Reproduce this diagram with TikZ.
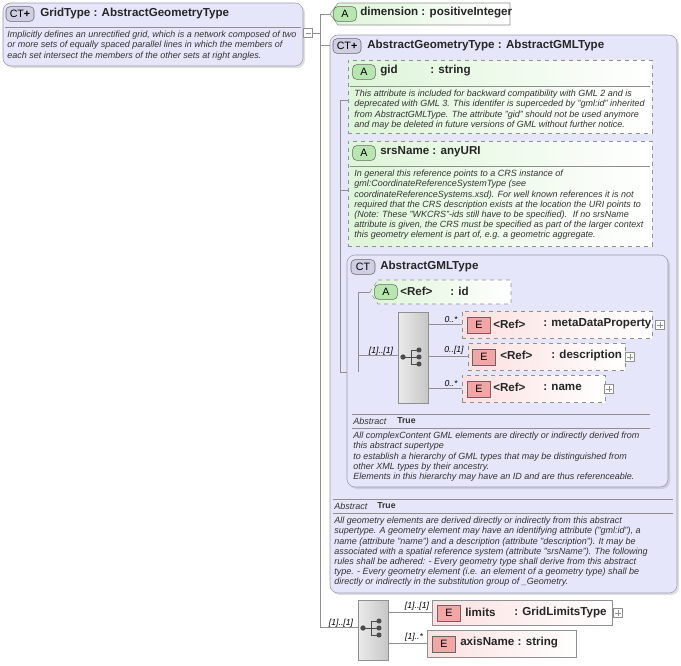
\documentclass[tikz,border=0pt]{standalone}
\usepackage{fontspec}
\setmainfont{Liberation Sans}
\usetikzlibrary{fit,shadows,calc}
\definecolor{ctfill}{HTML}{E6E6FA}
\definecolor{ctline}{HTML}{9A9AB0}
\definecolor{attfill}{HTML}{DDF5D8}
\definecolor{attic}{HTML}{B8E6B0}
\definecolor{elfill}{HTML}{FBE0E0}
\definecolor{elic}{HTML}{F3A6A6}
\definecolor{lnc}{HTML}{909090}
\tikzset{
 x=0.75pt,y=-0.75pt,
 ctbox/.style={draw=ctline,fill=ctfill,rounded corners=6pt,inner sep=0,drop shadow={opacity=0.25,shadow xshift=1.5pt,shadow yshift=-1.5pt}},
 attbox/.style={draw=lnc,dashed,left color=attfill,right color=white,inner sep=0},
 elbox/.style={draw=lnc,dashed,left color=elfill,right color=white,inner sep=0},
 elboxs/.style={draw=lnc,left color=elfill,right color=white,inner sep=0},
 title/.style={anchor=west,font=\fontsize{8.7}{10}\selectfont\bfseries,inner sep=0,text=black!85},
 doc/.style={anchor=north west,align=left,font=\fontsize{6.75}{7.6}\selectfont\itshape,inner sep=0,text=black!80},
 mult/.style={font=\fontsize{6.5}{7}\selectfont\itshape,inner sep=0,anchor=south},
 ctic/.style={draw=black!60,fill=ctfill!70!ctline,rounded corners=3pt,font=\fontsize{8}{8}\selectfont,inner sep=1pt,minimum width=21pt,minimum height=11pt},
 aic/.style={draw=black!60,fill=attic,rounded corners=3pt,font=\fontsize{8}{8}\selectfont,inner sep=1pt,minimum width=17pt,minimum height=11pt},
 eic/.style={draw=black!60,fill=elic,font=\fontsize{8}{8}\selectfont,inner sep=1pt,minimum width=17pt,minimum height=12pt},
 seqbox/.style={draw=lnc,left color=black!8,right color=black!22,inner sep=0},
 pl/.style={draw=lnc,fill=white,minimum size=6.5pt,inner sep=0},
 conn/.style={draw=lnc,line width=0.5pt},
 sep/.style={draw=lnc,line width=0.4pt},
}
\newcommand{\plusat}[3]{\node[pl] (#1) at (#2,#3) {}; \draw[lnc,line width=0.4pt] ($(#1)+(-2.2pt,0)$)--($(#1)+(2.2pt,0)$) ($(#1)+(0,-2.2pt)$)--($(#1)+(0,2.2pt)$);}
\newcommand{\seqicon}[2]{\fill[black!70] (#1-10,#2) circle (2pt); \draw[black!70,line width=0.7pt] (#1-10,#2)--(#1-2,#2) (#1-2,#2-7)--(#1-2,#2+7) (#1-2,#2-7)--(#1+6,#2-7) (#1-2,#2)--(#1+6,#2) (#1-2,#2+7)--(#1+6,#2+7); \fill[black!70] (#1+6,#2-7) circle (1.9pt) (#1+6,#2) circle (1.9pt) (#1+6,#2+7) circle (1.9pt);}
\begin{document}
\begin{tikzpicture}
\useasboundingbox (0,0) rectangle (681,665);
\coordinate (j0) at (320,33);
\draw[conn] (311,33)--(320,33) (320,14)--(320,627);
\draw[conn] (320,14)--(330,14) (320,45)--(330,45) (320,627)--(358,627);
\node[ctbox,fit={(3,3)(303,66)}] (grid) {};
\draw[sep] (5,27)--(301,27);
\node[ctic] (gic) at (20,14) {CT\textbf{+}};
\node[title] (gt) at (40,13) {GridType : AbstractGeometryType};
\node[doc] (gd) at (7,31) {Implicitly defines an unrectified grid, which is a network composed of two\\or more sets of equally spaced parallel lines in which the members of\\each set intersect the members of the other sets at right angles.};
\node[pl] (gm) at (308,33) {}; \draw[lnc,line width=0.4pt] (305.5,33)--(310.5,33);
% dimension
\draw[attbox,solid,draw=lnc] (338,3)--(510,3)--(510,25)--(338,25)--(330,14)--cycle;
\node[inner sep=0,fit={(330,3)(510,25)}] (dim) {};
\node[aic] (dic) at (345,14) {A};
\node[title] at (360,13) {dimension : positiveInteger};
% AbstractGeometryType
\node[ctbox,fit={(330,35)(677,593)}] (agt) {};
\node[ctic] (aic1) at (347,46) {CT\textbf{+}};
\node[title] at (367,45) {AbstractGeometryType : AbstractGMLType};
\draw[conn] (340,100)--(340,372)--(358,372) (340,100)--(348,100) (340,190)--(348,190);
% gid
\node[attbox,fit={(348,60)(652,133)}] (gid) {};
\draw[sep] (350,86)--(650,86);
\node[aic] at (364,72) {A};
\node[title] at (380,71) {gid};
\node[title] at (430,71) {: string};
\node[doc] at (354,90) {This attribute is included for backward compatibility with GML 2 and is\\deprecated with GML 3. This identifer is superceded by "gml:id" inherited\\from AbstractGMLType. The attribute "gid" should not be used anymore\\and may be deleted in future versions of GML without further notice.};
% srsName
\node[attbox,fit={(348,141)(652,246)}] (srs) {};
\draw[sep] (350,166)--(650,166);
\node[aic] at (364,153) {A};
\node[title] at (380,152) {srsName : anyURI};
\node[doc] at (354,170) {In general this reference points to a CRS instance of\\gml:CoordinateReferenceSystemType (see\\coordinateReferenceSystems.xsd). For well known references it is not\\required that the CRS description exists at the location the URI points to\\(Note: These "WKCRS"-ids still have to be specified).~ If no srsName\\attribute is given, the CRS must be specified as part of the larger context\\this geometry element is part of, e.g. a geometric aggregate.};
% AbstractGMLType
\node[ctbox,fit={(347,255)(668,487)}] (agml) {};
\node[ctic,minimum width=18pt] at (363,267) {CT};
\node[title] at (380,266) {AbstractGMLType};
\draw[conn] (358,372)--(358,292)--(370,292) (358,355)--(398,355);
\node[mult] at (381,356) {[1]..[1]};
\draw[attbox] (378,280)--(511,280)--(511,304)--(378,304)--(370,292)--cycle;
\node[inner sep=0,fit={(370,280)(511,304)}] (id) {};
\node[aic] at (386,292) {A};
\node[title] at (400,291) {<Ref>};
\node[title] at (450,291) {: id};
\node[seqbox,fit={(398,312)(428,403)}] (seq1) {};
\seqicon{413}{357}
\draw[conn] (428,324)--(462,324) (428,356)--(468,356) (428,388)--(462,388);
\node[mult] at (451,323) {0..*};
\node[mult] at (454,355) {0..[1]};
\node[mult] at (451,387) {0..*};
\node[elbox,fit={(462,311)(652,338)}] (mdp) {};
\node[eic] at (479,325) {E};
\node[title] at (493,324) {<Ref>};
\node[title] at (543,324) {: metaDataProperty};
\plusat{p1}{660}{325}
\node[elbox,fit={(468,343)(625,370)}] (desc) {};
\node[eic] at (484,357) {E};
\node[title] at (500,355) {<Ref>};
\node[title] at (551,355) {: description};
\plusat{p2}{630}{357}
\node[elbox,fit={(462,375)(605,402)}] (nm) {};
\node[eic] at (479,389) {E};
\node[title] at (493,387) {<Ref>};
\node[title] at (543,387) {: name};
\plusat{p3}{609}{389}
\draw[sep] (352,414)--(650,414) (352,428)--(650,428);
\node[doc,anchor=west] at (353,421) {Abstract};
\node[doc,anchor=west,font=\fontsize{6.5}{7.6}\selectfont\bfseries] at (397,421) {True};
\node[doc] at (353,432) {All complexContent GML elements are directly or indirectly derived from\\this abstract supertype\\to establish a hierarchy of GML types that may be distinguished from\\other XML types by their ancestry.\\Elements in this hierarchy may have an ID and are thus referenceable.};
% outer abstract
\draw[sep] (333,499)--(673,499) (333,513)--(673,513);
\node[doc,anchor=west] at (334,506) {Abstract};
\node[doc,anchor=west,font=\fontsize{6.5}{7.6}\selectfont\bfseries] at (377,506) {True};
\node[doc] at (334,517) {All geometry elements are derived directly or indirectly from this abstract\\supertype. A geometry element may have an identifying attribute ("gml:id"), a\\name (attribute "name") and a description (attribute "description"). It may be\\associated with a spatial reference system (attribute "srsName"). The following\\rules shall be adhered: - Every geometry type shall derive from this abstract\\type. - Every geometry element (i.e. an element of a geometry type) shall be\\directly or indirectly in the substitution group of \_Geometry.};
% outer sequence
\node[mult] at (341,628) {[1]..[1]};
\node[seqbox,fit={(358,600)(388,660)}] (seq2) {};
\seqicon{373}{628}
\draw[conn] (388,612)--(432,612) (388,643)--(427,643);
\node[mult] at (417,611) {[1]..[1]};
\node[mult] at (414,642) {[1]..*};
\node[elboxs,fit={(432,600)(612,625)}] (lim) {};
\node[eic] at (449,613) {E};
\node[title] at (465,612) {limits};
\node[title] at (514,612) {: GridLimitsType};
\plusat{p4}{618}{613}
\node[elboxs,fit={(427,630)(576,657)}] (ax) {};
\node[eic] at (444,644) {E};
\node[title] at (460,643) {axisName : string};
\end{tikzpicture}
\end{document}
